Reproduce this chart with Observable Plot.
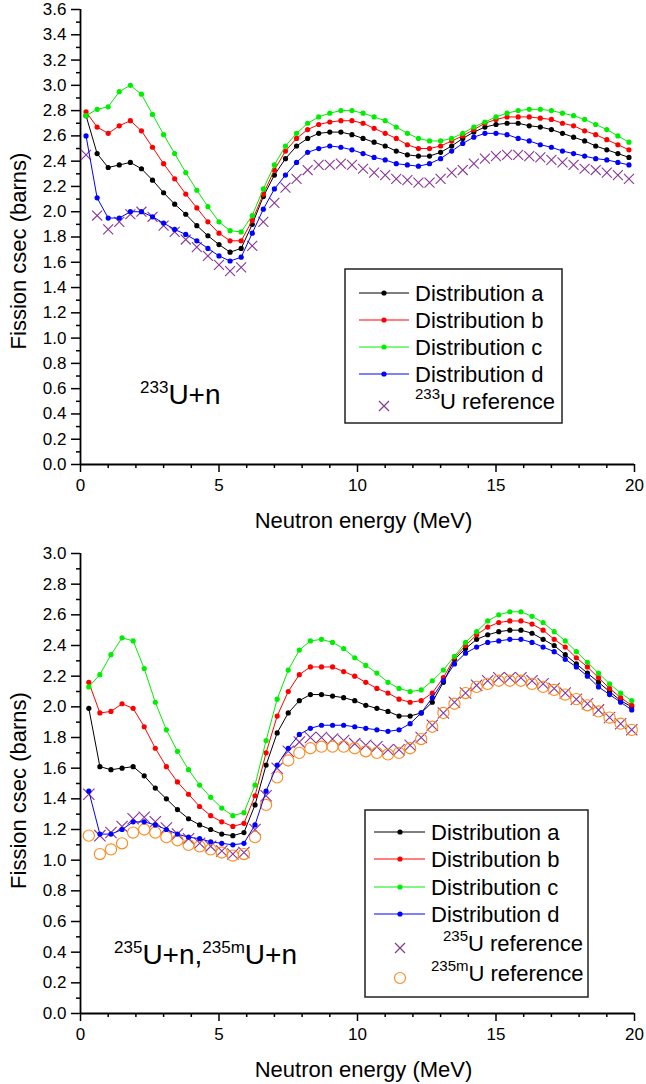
<!DOCTYPE html>
<html><head><meta charset="utf-8">
<script src="https://cdn.jsdelivr.net/npm/d3@7"></script>
<script src="https://cdn.jsdelivr.net/npm/@observablehq/plot@0.6"></script>
<style>
body{margin:0;background:#fff;}
#wrap{width:646px;font-family:"Liberation Sans",Arial,sans-serif;}
.panel{position:relative;width:646px;}
.panel svg{display:block;}
.panel svg g[aria-label$="tick label"]{font-size:17px;}
.overlay{position:absolute;left:0;top:0;pointer-events:none;}
</style></head><body><div id="wrap"></div>
<script>
// ---------- Top panel: 233U+n ----------
const xTop = [0.2,0.6,1.0,1.4,1.8,2.2,2.6,3.0,3.4,3.8,4.2,4.6,5.0,5.4,5.8,6.2,6.6,7.0,7.4,7.8,8.2,8.6,9.0,9.4,9.8,10.2,10.6,11.0,11.4,11.8,12.2,12.6,13.0,13.4,13.8,14.2,14.6,15.0,15.4,15.8,16.2,16.6,17.0,17.4,17.8,18.2,18.6,19.0,19.4,19.8];
const topA = [2.76,2.46,2.35,2.37,2.39,2.34,2.25,2.15,2.06,1.98,1.89,1.81,1.74,1.68,1.71,1.90,2.12,2.29,2.42,2.52,2.58,2.62,2.63,2.63,2.61,2.58,2.55,2.52,2.48,2.45,2.44,2.44,2.47,2.52,2.58,2.63,2.67,2.69,2.70,2.70,2.68,2.67,2.65,2.62,2.59,2.56,2.52,2.49,2.46,2.43];
const topB = [2.79,2.67,2.62,2.68,2.72,2.64,2.51,2.38,2.26,2.14,2.03,1.92,1.83,1.77,1.77,1.93,2.14,2.33,2.48,2.58,2.65,2.69,2.71,2.72,2.72,2.70,2.66,2.62,2.58,2.53,2.50,2.50,2.52,2.56,2.60,2.65,2.70,2.73,2.75,2.75,2.75,2.74,2.73,2.70,2.68,2.64,2.61,2.57,2.53,2.49];
const topC = [2.76,2.81,2.83,2.95,3.00,2.93,2.77,2.61,2.46,2.31,2.17,2.04,1.92,1.85,1.84,1.97,2.18,2.37,2.52,2.62,2.70,2.75,2.78,2.80,2.80,2.78,2.75,2.72,2.67,2.62,2.58,2.56,2.56,2.58,2.62,2.67,2.71,2.75,2.78,2.80,2.81,2.81,2.80,2.78,2.76,2.73,2.69,2.65,2.60,2.55];
const topD = [2.60,2.11,1.95,1.95,2.00,2.00,1.96,1.91,1.86,1.82,1.77,1.71,1.65,1.61,1.64,1.83,2.02,2.18,2.29,2.39,2.47,2.50,2.52,2.51,2.49,2.46,2.43,2.41,2.38,2.37,2.36,2.38,2.42,2.48,2.54,2.59,2.62,2.62,2.61,2.58,2.56,2.53,2.51,2.48,2.46,2.44,2.42,2.41,2.39,2.37];
const topRef = [2.45,1.97,1.86,1.92,1.98,2.00,1.96,1.89,1.84,1.78,1.72,1.65,1.58,1.53,1.56,1.73,1.92,2.07,2.19,2.26,2.33,2.37,2.37,2.38,2.37,2.34,2.31,2.29,2.26,2.25,2.23,2.23,2.26,2.31,2.33,2.38,2.42,2.44,2.45,2.45,2.44,2.43,2.41,2.39,2.37,2.34,2.33,2.31,2.29,2.26];

// ---------- Bottom panel: 235U+n, 235mU+n ----------
const xBot = [0.3,0.7,1.1,1.5,1.9,2.3,2.7,3.1,3.5,3.9,4.3,4.7,5.1,5.5,5.9,6.3,6.7,7.1,7.5,7.9,8.3,8.7,9.1,9.5,9.9,10.3,10.7,11.1,11.5,11.9,12.3,12.7,13.1,13.5,13.9,14.3,14.7,15.1,15.5,15.9,16.3,16.7,17.1,17.5,17.9,18.3,18.7,19.1,19.5,19.9];
const botA = [1.99,1.61,1.59,1.60,1.61,1.55,1.47,1.40,1.33,1.27,1.23,1.20,1.17,1.16,1.18,1.36,1.62,1.83,1.96,2.04,2.08,2.08,2.07,2.06,2.04,2.01,1.99,1.97,1.94,1.94,1.96,2.03,2.16,2.31,2.38,2.44,2.47,2.49,2.50,2.50,2.48,2.44,2.40,2.34,2.28,2.22,2.16,2.10,2.04,2.00];
const botB = [2.16,1.96,1.97,2.02,1.99,1.87,1.73,1.61,1.51,1.43,1.35,1.29,1.25,1.22,1.24,1.42,1.70,1.94,2.10,2.21,2.26,2.26,2.26,2.23,2.20,2.16,2.12,2.09,2.05,2.03,2.04,2.09,2.19,2.32,2.40,2.47,2.52,2.55,2.56,2.56,2.54,2.50,2.44,2.39,2.32,2.26,2.19,2.12,2.06,2.01];
const botC = [2.13,2.21,2.34,2.45,2.43,2.25,2.03,1.85,1.71,1.59,1.49,1.41,1.34,1.29,1.31,1.49,1.78,2.05,2.24,2.37,2.43,2.44,2.42,2.38,2.32,2.27,2.22,2.16,2.12,2.10,2.11,2.17,2.24,2.33,2.42,2.49,2.56,2.60,2.62,2.62,2.59,2.55,2.49,2.43,2.36,2.29,2.22,2.15,2.09,2.04];
const botD = [1.45,1.17,1.17,1.20,1.25,1.25,1.23,1.20,1.17,1.15,1.14,1.12,1.11,1.10,1.11,1.23,1.45,1.62,1.73,1.82,1.86,1.88,1.88,1.88,1.87,1.86,1.85,1.84,1.85,1.89,1.96,2.06,2.17,2.28,2.35,2.39,2.42,2.43,2.44,2.44,2.42,2.39,2.36,2.31,2.26,2.20,2.13,2.08,2.03,1.98];
const botRef235 = [1.43,1.16,1.18,1.22,1.27,1.28,1.25,1.21,1.17,1.14,1.11,1.09,1.06,1.04,1.05,1.20,1.42,1.60,1.71,1.77,1.80,1.80,1.79,1.78,1.76,1.75,1.74,1.72,1.72,1.75,1.80,1.88,1.96,2.03,2.09,2.14,2.17,2.19,2.19,2.19,2.17,2.15,2.12,2.09,2.05,2.02,1.98,1.93,1.89,1.85];
const botRef235m = [1.16,1.04,1.07,1.11,1.18,1.20,1.18,1.15,1.13,1.10,1.09,1.07,1.05,1.03,1.04,1.15,1.36,1.54,1.65,1.70,1.73,1.74,1.74,1.74,1.73,1.71,1.70,1.69,1.70,1.73,1.79,1.87,1.96,2.02,2.09,2.13,2.15,2.17,2.17,2.17,2.15,2.13,2.11,2.08,2.05,2.01,1.97,1.93,1.89,1.85];

// ---------- labels / ticks ----------
const distNames = ["Distribution a","Distribution b","Distribution c","Distribution d"];
const distColors = ["#000000","#ff0000","#00ee00","#0000ff"];
const xMajor = [0,5,10,15,20];
const xMinor = [1,2,3,4,6,7,8,9,11,12,13,14,16,17,18,19];
const yMajorTop = [0,0.2,0.4,0.6,0.8,1.0,1.2,1.4,1.6,1.8,2.0,2.2,2.4,2.6,2.8,3.0,3.2,3.4,3.6];
const yMinorTop = [0.1,0.3,0.5,0.7,0.9,1.1,1.3,1.5,1.7,1.9,2.1,2.3,2.5,2.7,2.9,3.1,3.3,3.5];
const yMajorBot = [0,0.2,0.4,0.6,0.8,1.0,1.2,1.4,1.6,1.8,2.0,2.2,2.4,2.6,2.8,3.0];
const yMinorBot = [0.1,0.3,0.5,0.7,0.9,1.1,1.3,1.5,1.7,1.9,2.1,2.3,2.5,2.7,2.9];
const xTitle = "Neutron energy (MeV)";
const yTitle = "Fission csec (barns)";
const refColor = "#8a3596";
const ref2Color = "#ff8a1c";
const FONT = "'Liberation Sans', Arial, sans-serif";

const toRows = (xs, ys) => xs.map((x, i) => ({x, y: ys[i]}));

function makePlot({xs, dists, refs, yMax, yMajor, yMinor, height, marginTop, titleDy}) {
  const marks = [
    Plot.axisY({ticks: yMinor, tickSize: 4, tickFormat: () => "", strokeWidth: 1.5, label: null}),
    Plot.axisY({ticks: yMajor, tickSize: 9, tickPadding: 5, tickFormat: d3.format(".1f"), strokeWidth: 1.5, label: null, fontSize: 17}),
    Plot.axisX({ticks: xMinor, tickSize: 4, tickFormat: () => "", strokeWidth: 1.5, label: null}),
    Plot.axisX({ticks: xMajor, tickSize: 8, tickPadding: 6, strokeWidth: 1.5, label: null, fontSize: 17}),
    Plot.ruleX([0], {strokeWidth: 1.8}),
    Plot.ruleY([0], {strokeWidth: 1.8}),
    Plot.text([xTitle], {frameAnchor: "bottom", dy: 56, dx: 6, lineAnchor: "middle", textAnchor: "middle", fontSize: 22}),
    Plot.text([yTitle], {frameAnchor: "left", dx: -62, dy: titleDy, rotate: -90, textAnchor: "middle", lineAnchor: "middle", fontSize: 22})
  ];
  refs.forEach(r => {
    const rows = toRows(xs, r.values);
    if (r.symbol === "times") marks.push(Plot.dot(rows, {x: "x", y: "y", symbol: "times", stroke: r.color, r: r.r, strokeWidth: 1.1}));
    else marks.push(Plot.dot(rows, {x: "x", y: "y", symbol: "circle", stroke: r.color, fill: "none", r: r.r, strokeWidth: 1.1}));
  });
  dists.forEach((vals, k) => {
    const rows = toRows(xs, vals);
    marks.push(Plot.line(rows, {x: "x", y: "y", stroke: distColors[k], strokeWidth: 1}));
    marks.push(Plot.dot(rows, {x: "x", y: "y", fill: distColors[k], r: 2.6}));
  });
  return Plot.plot({
    width: 646, height, marginLeft: 80, marginRight: 12, marginTop, marginBottom: 71,
    x: {domain: [0, 20]},
    y: {domain: [0, yMax]},
    style: {fontFamily: FONT, fontSize: "16px", color: "#000", background: "#fff", overflow: "visible"},
    marks
  });
}

function addOverlay(div, width, height, legend, label) {
  const svg = d3.select(div).append("svg").attr("class", "overlay")
    .attr("width", width).attr("height", height)
    .style("font-family", FONT);
  const L = legend;
  svg.append("rect").attr("x", L.x).attr("y", L.y).attr("width", L.w).attr("height", L.h)
    .attr("fill", "#fff").attr("stroke", "#222").attr("stroke-width", 1.5);
  L.rows.forEach(row => {
    if (row.kind === "line") {
      svg.append("line").attr("x1", L.sx1).attr("x2", L.sx2).attr("y1", row.y).attr("y2", row.y)
        .attr("stroke", row.color).attr("stroke-width", 1.2);
      svg.append("circle").attr("cx", L.mx).attr("cy", row.y).attr("r", 2.6).attr("fill", row.color);
    } else if (row.kind === "times") {
      const s = 5;
      svg.append("path").attr("d", `M${L.mx - s},${row.y - s}L${L.mx + s},${row.y + s}M${L.mx - s},${row.y + s}L${L.mx + s},${row.y - s}`)
        .attr("stroke", row.color).attr("stroke-width", 1.2).attr("fill", "none");
    } else {
      svg.append("circle").attr("cx", L.mx).attr("cy", row.y).attr("r", 5.5)
        .attr("stroke", row.color).attr("stroke-width", 1.2).attr("fill", "none");
    }
    const t = svg.append("text").attr("x", row.tx).attr("y", row.y).attr("dy", "0.36em")
      .attr("font-size", 22).attr("fill", "#000");
    if (row.sup) {
      t.append("tspan").attr("font-size", 15).attr("dy", "-0.45em").text(row.sup);
      t.append("tspan").attr("dy", "0.45em").text(row.text);
    } else {
      t.text(row.text);
    }
  });
  const t = svg.append("text").attr("x", label.x).attr("y", label.y).attr("font-size", 28).attr("fill", "#000");
  label.parts.forEach(p => {
    if (p.sup) t.append("tspan").attr("font-size", 17).attr("dy", -11).text(p.sup);
    else t.append("tspan").attr("dy", 11).text(p.text);
  });
}

const wrap = document.getElementById("wrap");

// top
const topDiv = document.createElement("div"); topDiv.className = "panel"; wrap.appendChild(topDiv);
topDiv.appendChild(makePlot({xs: xTop, dists: [topA, topB, topC, topD],
  refs: [{values: topRef, symbol: "times", color: refColor, r: 4.6}],
  yMax: 3.6, yMajor: yMajorTop, yMinor: yMinorTop, height: 535, marginTop: 9, titleDy: 14}));
addOverlay(topDiv, 646, 535, {
  x: 345, y: 269, w: 217, h: 154, sx1: 359, sx2: 409, mx: 384,
  rows: [
    {kind: "line", color: distColors[0], y: 293, tx: 415, text: distNames[0]},
    {kind: "line", color: distColors[1], y: 320, tx: 415, text: distNames[1]},
    {kind: "line", color: distColors[2], y: 347, tx: 415, text: distNames[2]},
    {kind: "line", color: distColors[3], y: 374, tx: 415, text: distNames[3]},
    {kind: "times", color: refColor, y: 406, tx: 415, sup: "233", text: "U reference"}
  ]}, {x: 140, y: 404, parts: [{sup: "233"}, {text: "U+n"}]});

// bottom
const botDiv = document.createElement("div"); botDiv.className = "panel"; wrap.appendChild(botDiv);
botDiv.appendChild(makePlot({xs: xBot, dists: [botA, botB, botC, botD],
  refs: [{values: botRef235, symbol: "times", color: refColor, r: 5.2},
         {values: botRef235m, symbol: "circle", color: ref2Color, r: 5.6}],
  yMax: 3.0, yMajor: yMajorBot, yMinor: yMinorBot, height: 549, marginTop: 18, titleDy: 7}));
addOverlay(botDiv, 646, 549, {
  x: 365, y: 275, w: 223, h: 187, sx1: 374, sx2: 425, mx: 400,
  rows: [
    {kind: "line", color: distColors[0], y: 297, tx: 431, text: distNames[0]},
    {kind: "line", color: distColors[1], y: 324, tx: 431, text: distNames[1]},
    {kind: "line", color: distColors[2], y: 352, tx: 431, text: distNames[2]},
    {kind: "line", color: distColors[3], y: 379, tx: 431, text: distNames[3]},
    {kind: "times", color: refColor, y: 413, tx: 443, sup: "235", text: "U reference"},
    {kind: "circle", color: ref2Color, y: 443, tx: 431, sup: "235m", text: "U reference"}
  ]}, {x: 114, y: 429, parts: [{sup: "235"}, {text: "U+n,"}, {sup: "235m"}, {text: "U+n"}]});
</script>
</body></html>
